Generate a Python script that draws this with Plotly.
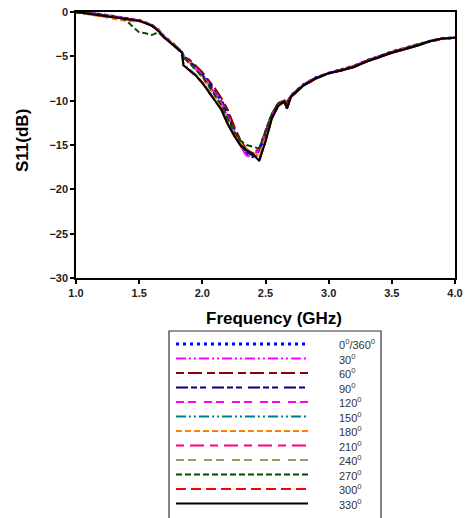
import plotly.graph_objects as go

freq = [1.0, 1.05, 1.1, 1.15, 1.2, 1.25, 1.3, 1.35, 1.4, 1.45, 1.5, 1.55, 1.6, 1.65, 1.7, 1.75, 1.8, 1.84,
        1.85, 1.9, 1.95, 2.0, 2.05, 2.1, 2.15, 2.2, 2.25, 2.3, 2.35, 2.4, 2.45, 2.5, 2.55, 2.6, 2.65, 2.67,
        2.7, 2.8, 2.9, 3.0, 3.1, 3.2, 3.3, 3.4, 3.5, 3.6, 3.7, 3.8, 3.9, 4.0]

s_0 = [0, -0.05, -0.1, -0.2, -0.3, -0.4, -0.5, -0.6, -0.7, -0.8, -0.95, -1.2, -1.5, -2.0, -2.8, -3.4, -4.0, -4.6,
       -5.0, -5.6, -6.3, -7.0, -7.9, -8.9, -10.0, -11.4, -13.2, -14.6, -15.9, -16.3, -15.6, -13.6, -11.6, -10.4, -10.0, -10.5,
       -9.5, -8.2, -7.4, -6.9, -6.5, -6.1, -5.5, -5.0, -4.5, -4.1, -3.7, -3.3, -3.0, -2.9]
s_30 = [0, -0.05, -0.1, -0.2, -0.3, -0.4, -0.5, -0.6, -0.7, -0.8, -0.95, -1.2, -1.5, -2.0, -2.8, -3.4, -4.0, -4.6,
        -5.1, -5.7, -6.4, -7.2, -8.1, -9.2, -10.3, -11.8, -13.6, -15.0, -16.3, -16.2, -15.4, -13.4, -11.5, -10.4, -10.0, -10.4,
        -9.5, -8.2, -7.4, -6.9, -6.5, -6.1, -5.5, -5.0, -4.5, -4.1, -3.7, -3.3, -3.0, -2.9]
s_60 = [0, -0.05, -0.1, -0.2, -0.3, -0.4, -0.5, -0.6, -0.7, -0.8, -0.95, -1.2, -1.5, -2.0, -2.8, -3.4, -4.0, -4.6,
        -5.0, -5.4, -6.1, -6.8, -7.7, -8.6, -9.7, -11.0, -12.8, -14.4, -15.5, -16.0, -15.4, -13.4, -11.5, -10.3, -9.9, -10.2,
        -9.4, -8.2, -7.4, -6.9, -6.5, -6.1, -5.5, -5.0, -4.5, -4.1, -3.7, -3.3, -3.0, -2.9]
s_90 = [0, -0.05, -0.1, -0.2, -0.3, -0.4, -0.5, -0.6, -0.7, -0.8, -0.95, -1.2, -1.5, -2.0, -2.8, -3.4, -4.0, -4.6,
        -5.0, -5.6, -6.3, -7.1, -8.0, -9.0, -10.1, -11.6, -13.4, -14.8, -15.8, -16.2, -15.6, -13.8, -11.8, -10.5, -10.1, -10.8,
        -9.6, -8.3, -7.5, -6.9, -6.6, -6.2, -5.6, -5.1, -4.6, -4.2, -3.8, -3.3, -3.0, -2.9]
s_120 = [0, -0.05, -0.1, -0.2, -0.3, -0.4, -0.5, -0.6, -0.7, -0.8, -0.95, -1.2, -1.5, -2.0, -2.8, -3.4, -4.0, -4.6,
         -5.1, -5.7, -6.4, -7.1, -8.1, -9.1, -10.2, -11.7, -13.5, -15.0, -16.2, -16.3, -15.5, -13.5, -11.6, -10.4, -10.0, -10.4,
         -9.5, -8.2, -7.4, -6.9, -6.5, -6.1, -5.5, -5.0, -4.5, -4.1, -3.7, -3.3, -3.0, -2.9]
s_150 = [0, -0.1, -0.15, -0.25, -0.35, -0.45, -0.55, -0.65, -0.75, -0.85, -1.0, -1.25, -1.55, -2.1, -2.9, -3.5, -4.1, -4.6,
         -5.9, -6.5, -7.1, -7.9, -8.9, -9.9, -10.9, -12.5, -13.8, -14.9, -15.5, -15.9, -16.5, -14.5, -12.0, -10.6, -10.1, -10.8,
         -9.6, -8.3, -7.5, -6.9, -6.6, -6.2, -5.6, -5.1, -4.6, -4.2, -3.8, -3.3, -3.0, -2.9]
s_180 = [0, -0.15, -0.3, -0.4, -0.5, -0.65, -0.8, -0.9, -1.0, -1.0, -1.05, -1.25, -1.5, -2.0, -2.8, -3.4, -4.0, -4.6,
         -5.1, -5.8, -6.5, -7.4, -8.4, -9.4, -10.5, -12.0, -13.6, -14.8, -15.5, -15.9, -16.1, -14.2, -12.0, -10.6, -10.1, -10.6,
         -9.6, -8.3, -7.5, -6.9, -6.6, -6.2, -5.6, -5.1, -4.6, -4.2, -3.8, -3.3, -3.0, -2.9]
s_210 = [0, -0.1, -0.15, -0.25, -0.35, -0.45, -0.55, -0.65, -0.75, -0.85, -1.0, -1.25, -1.55, -2.1, -2.9, -3.5, -4.1, -4.6,
         -6.0, -6.6, -7.2, -8.0, -9.0, -10.0, -11.0, -12.6, -13.9, -15.0, -15.6, -16.0, -16.7, -14.6, -12.0, -10.6, -10.1, -10.9,
         -9.6, -8.3, -7.5, -6.9, -6.6, -6.2, -5.6, -5.1, -4.6, -4.2, -3.8, -3.3, -3.0, -2.9]
s_240 = [0, -0.1, -0.15, -0.25, -0.35, -0.45, -0.55, -0.65, -0.75, -0.85, -1.0, -1.25, -1.55, -2.1, -2.9, -3.5, -4.1, -4.6,
         -6.0, -6.6, -7.2, -8.0, -9.0, -10.0, -11.0, -12.6, -13.9, -15.0, -15.6, -16.0, -16.6, -14.6, -12.0, -10.6, -10.1, -10.9,
         -9.6, -8.3, -7.5, -6.9, -6.6, -6.2, -5.6, -5.1, -4.6, -4.2, -3.8, -3.3, -3.0, -2.9]
s_270 = [0, -0.05, -0.1, -0.2, -0.3, -0.4, -0.5, -0.6, -1.0, -1.6, -2.3, -2.4, -2.6, -2.3, -2.9, -3.4, -4.0, -4.6,
         -5.1, -5.8, -6.5, -7.3, -8.3, -9.4, -10.5, -12.0, -13.4, -14.5, -15.0, -15.2, -15.4, -13.5, -11.5, -10.4, -10.0, -10.4,
         -9.5, -8.2, -7.4, -6.9, -6.5, -6.1, -5.5, -5.0, -4.5, -4.1, -3.7, -3.3, -3.0, -2.9]
s_300 = [0, -0.1, -0.15, -0.25, -0.35, -0.45, -0.55, -0.65, -0.75, -0.85, -1.0, -1.25, -1.55, -2.1, -2.9, -3.5, -4.1, -4.6,
         -6.0, -6.6, -7.2, -8.0, -9.0, -10.0, -11.0, -12.6, -13.9, -15.0, -15.6, -16.0, -16.8, -14.6, -12.0, -10.6, -10.1, -10.9,
         -9.6, -8.3, -7.5, -6.9, -6.6, -6.2, -5.6, -5.1, -4.6, -4.2, -3.8, -3.3, -3.0, -2.9]
s_330 = [0, -0.1, -0.15, -0.25, -0.35, -0.45, -0.55, -0.65, -0.75, -0.85, -1.0, -1.25, -1.55, -2.1, -2.9, -3.5, -4.1, -4.6,
         -6.0, -6.6, -7.2, -8.0, -9.0, -10.0, -11.0, -12.6, -13.9, -15.0, -15.6, -16.0, -16.8, -14.6, -12.0, -10.6, -10.1, -10.9,
         -9.6, -8.3, -7.5, -6.9, -6.6, -6.2, -5.6, -5.1, -4.6, -4.2, -3.8, -3.3, -3.0, -2.9]

labels = ["0<sup>0</sup>/360<sup>0</sup>", "30<sup>0</sup>", "60<sup>0</sup>", "90<sup>0</sup>", "120<sup>0</sup>",
          "150<sup>0</sup>", "180<sup>0</sup>", "210<sup>0</sup>", "240<sup>0</sup>", "270<sup>0</sup>",
          "300<sup>0</sup>", "330<sup>0</sup>"]
series = [s_0, s_30, s_60, s_90, s_120, s_150, s_180, s_210, s_240, s_270, s_300, s_330]
colors = ["#0000FF", "#FF00FF", "#8B0000", "#000080", "#FF00FF", "#008080", "#FF8000", "#FF0080",
          "#999966", "#005000", "#FF0000", "#000000"]
dashes = ["3px,4px", "10px,3px,2px,3px,2px,3px", "8px,4px,14px,5px", "12px,3px,6px,3px,6px,6px",
          "8px,4px,8px,8px", "10px,3px,2px,3px,2px,3px", "6px,3px", "8px,6px,14px,6px",
          "8px,4px,8px,8px", "6px,3px", "10px,5px", "solid"]
widths = [3, 2, 2, 2, 2, 2, 2, 2, 2, 2, 2, 2]

fig = go.Figure()
for vals, lab, c, d, w in zip(series, labels, colors, dashes, widths):
    fig.add_trace(go.Scatter(x=freq, y=vals, mode="lines", name=lab,
                             line=dict(color=c, dash=d, width=w), showlegend=False))

L, R, T, B = 76, 12, 12, 240
W, H = 467, 518
pw, ph = W - L - R, H - T - B


def px(x):
    return (x - L) / pw


def py(y):
    return (H - B - y) / ph


shapes = [dict(type="rect", xref="paper", yref="paper", x0=px(169), x1=px(381), y0=py(331), y1=py(540),
               line=dict(color="#333333", width=1.2), fillcolor="rgba(0,0,0,0)")]
annotations = []
for i, (lab, c, d, w) in enumerate(zip(labels, colors, dashes, widths)):
    yy = 344 + i * 14.5
    shapes.append(dict(type="line", xref="paper", yref="paper", x0=px(176), x1=px(308), y0=py(yy), y1=py(yy),
                       line=dict(color=c, dash=d, width=w)))
    annotations.append(dict(xref="paper", yref="paper", x=px(337), y=py(yy), text=lab, showarrow=False,
                            xanchor="left", yanchor="middle",
                            font=dict(family="Liberation Sans, Arial", size=11, color="#333333")))

annotations.append(dict(xref="paper", yref="paper", x=px(274), y=py(318), text="<b>Frequency (GHz)</b>",
                        showarrow=False, xanchor="center", yanchor="middle",
                        font=dict(family="Liberation Sans, Arial", size=17, color="#000000")))
annotations.append(dict(xref="paper", yref="paper", x=px(22), y=py(140), text="<b>S11(dB)</b>",
                        showarrow=False, xanchor="center", yanchor="middle", textangle=-90,
                        font=dict(family="Liberation Sans, Arial", size=17, color="#000000")))

fig.update_layout(
    width=W, height=H,
    margin=dict(l=L, r=R, t=T, b=B, autoexpand=False),
    paper_bgcolor="white", plot_bgcolor="white",
    shapes=shapes, annotations=annotations,
    font=dict(family="Liberation Sans, Arial", color="#222222"),
)
fig.update_xaxes(range=[1.0, 4.0], dtick=0.5, tick0=1.0, tickformat=".1f", showgrid=False, zeroline=False,
                 automargin=False,
                 showline=True, linecolor="#000000", linewidth=1.5, mirror=True,
                 ticks="outside", ticklen=4, tickwidth=1.5, tickcolor="#000000",
                 tickfont=dict(family="Liberation Sans, Arial", size=11, color="#222222", weight="bold"))
fig.update_yaxes(range=[-30, 0], dtick=5, showgrid=False, zeroline=False,
                 automargin=False,
                 showline=True, linecolor="#000000", linewidth=1.5, mirror=True,
                 ticks="outside", ticklen=4, tickwidth=1.5, tickcolor="#000000",
                 tickfont=dict(family="Liberation Sans, Arial", size=11, color="#222222", weight="bold"))

fig.write_html("out.html", config={"displayModeBar": False},
               post_script="document.body.style.margin='0';document.body.style.overflow='hidden';")
